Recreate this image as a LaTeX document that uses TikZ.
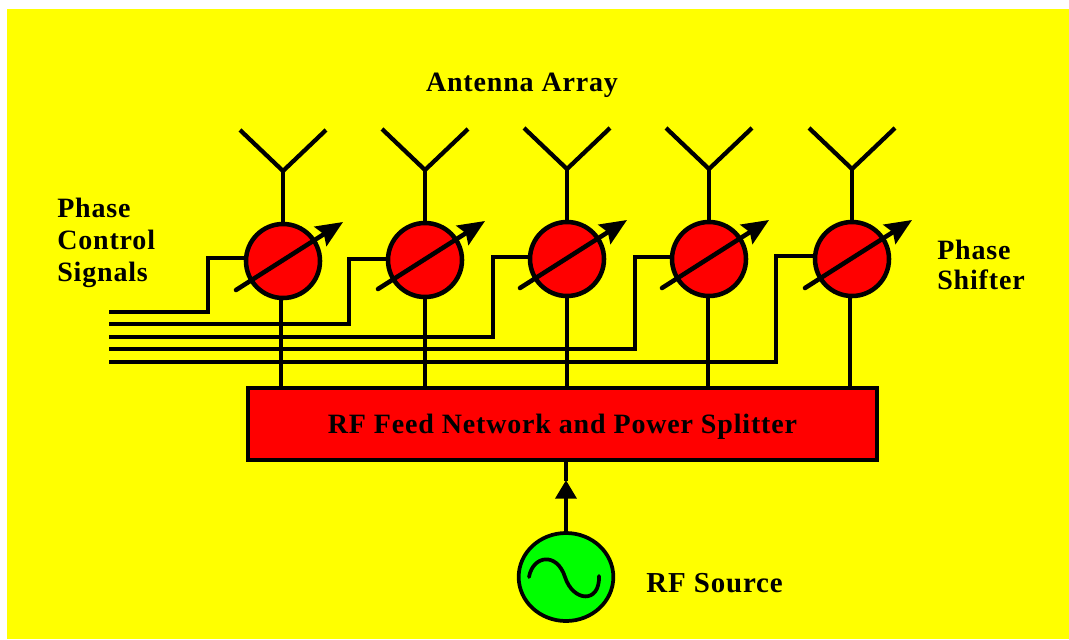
\documentclass[tikz,border=0pt]{standalone}
\usepackage{fontspec}
\setmainfont{Liberation Serif}[LetterSpace=3]
\usetikzlibrary{arrows.meta,calc,shapes.geometric}
\definecolor{bgyellow}{RGB}{255,255,0}
\definecolor{rfred}{RGB}{255,0,0}
\definecolor{srcgreen}{RGB}{0,255,0}
\tikzset{
  lab/.style={font=\fontsize{21pt}{24pt}\bfseries\selectfont,inner sep=0pt,text=black},
  shifter/.style={circle,draw=black,fill=rfred,line width=3.4pt,minimum size=55.5pt,inner sep=0pt},
  wire/.style={line width=3.2pt,draw=black},
  thinwire/.style={line width=2.8pt,draw=black},
  ctl/.style={line width=2.8pt,draw=black,line cap=butt,line join=miter},
  tune/.style={line width=3.4pt,draw=black,line cap=round,-{Stealth[length=20pt,width=17pt,inset=3pt]}},
}
\begin{document}
\begin{tikzpicture}[x=0.75pt,y=-0.75pt]
\useasboundingbox (0,0) rectangle (1069,639);
\fill[white] (0,0) rectangle (1069,639);
\fill[bgyellow] (7,9) rectangle (1069,639);
% network and source
\node[draw=black,fill=rfred,line width=3pt,minimum width=472pt,minimum height=54pt,inner sep=0pt,
  lab] (box) at (562.5,424) {\smash{\raisebox{-6.75pt}{RF Feed Network and Power Splitter}}};
\node[ellipse,draw=black,fill=srcgreen,line width=2.8pt,minimum width=71pt,minimum height=66pt,inner sep=0pt] (src) at (566,577) {};
\draw[line width=3.4pt,-{Triangle[length=14pt,width=15.5pt]}] (src.north) -- ($(box.south -| src.north)+(0,18)$);
\draw[wire] ($(src.north)+(0,-50)$) -- (box.south -| src.north);
\coordinate (w1) at (529,577);
\coordinate (w2) at (599,576);
\draw[line width=2.8pt,line cap=round] (w1) .. controls (533,555) and (557,552) .. (565,577) .. controls (573,602) and (600,604) .. (w2);
% phase shifters, antennas
\foreach \i/\x/\y/\b in {1/283/261/281,2/425/260/425,3/567/259/567,4/709/259/708,5/852/259/850}{
  \node[shifter] (ps\i) at (\x,\y) {};
  \coordinate (apex\i) at (\x,\y-90);
  \coordinate (tipL\i) at (\x-43,\y-131);
  \coordinate (tipR\i) at (\x+43,\y-131);
  \coordinate (tuneA\i) at (\x-47,\y+29);
  \coordinate (tuneB\i) at (\x+60,\y-39);
  \coordinate (boxin\i) at (\b,387);
  \draw[wire] (tipL\i) -- (apex\i) -- (tipR\i);
  \draw[wire] (apex\i) -- (ps\i.north);
  \draw[thinwire] (ps\i.south -| boxin\i) -- (boxin\i);
  \draw[tune] (tuneA\i) -- (tuneB\i);
}
% control lines
\foreach \i/\yy/\kx/\ky in {2/324/349/259,3/337/493/257,4/349/635/257,5/362/776/256}{
  \coordinate (cs\i) at (109,\yy);
  \coordinate (ck\i) at (\kx,\ky);
  \draw[ctl] (cs\i) -| (ck\i) -- (ck\i -| ps\i.west);
}
\coordinate (cs1) at (109,312);
\coordinate (ck1) at (208,258);
\draw[ctl,line width=3.7pt] (cs1) -| (ck1) -- (ck1 -| ps1.west);
% labels
\node[lab] (title) at (522,85) {Antenna Array};
\node[lab,align=left,anchor=west,font=\fontsize{21pt}{24pt}\bfseries\selectfont] (pcs) at (57,243) {Phase\\Control\\Signals};
\node[lab,align=left,anchor=west,font=\fontsize{21pt}{22.5pt}\bfseries\selectfont] (pshift) at (937,265) {Phase\\Shifter};
\node[lab,anchor=west,font=\fontsize{21.7pt}{24pt}\bfseries\selectfont] (rfs) at (646,583) {RF Source};
\end{tikzpicture}
\end{document}
